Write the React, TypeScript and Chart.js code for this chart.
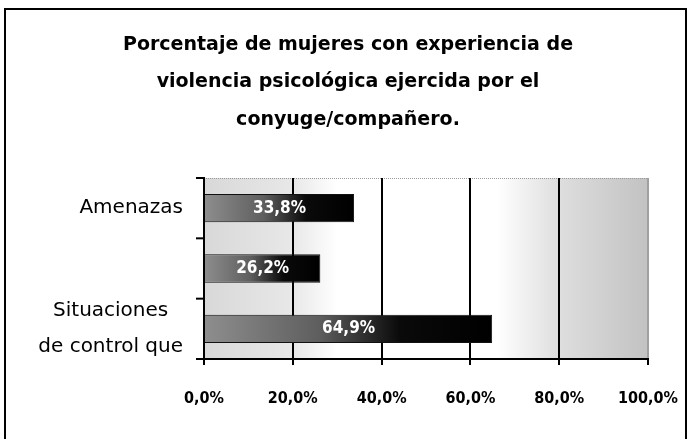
import React, { useEffect, useRef } from "react";
import { Chart, registerables } from "chart.js";

Chart.register(...registerables);

const titleLines = [
  "Porcentaje de mujeres con experiencia de",
  "violencia psicológica ejercida por el",
  "conyuge/compañero.",
];
const categories: string[][] = [["Amenazas"], [""], ["Situaciones", "de control que"]];
const values = [33.8, 26.2, 64.9];
const xTickValues = [0, 20, 40, 60, 80, 100];
const formatPct = (v: number) => v.toFixed(1).replace(".", ",") + "%";

const titlePlugin = {
  id: "customTitle",
  afterDraw(chart: any) {
    const { ctx } = chart;
    ctx.save();
    ctx.fillStyle = "#000";
    ctx.font = "bold 19px 'DejaVu Sans', sans-serif";
    ctx.textAlign = "center";
    ctx.textBaseline = "middle";
    titleLines.forEach((line, i) => {
      ctx.fillText(line, 348, 45 + i * 37.5);
    });
    ctx.restore();
  },
};

const plotBgPlugin = {
  id: "plotBg",
  beforeDraw(chart: any) {
    const { ctx, chartArea: a } = chart;
    if (!a) return;
    ctx.save();
    const g = ctx.createLinearGradient(a.left, 0, a.right, 0);
    g.addColorStop(0, "#d8d8d8");
    g.addColorStop(0.2, "#e8e8e8");
    g.addColorStop(0.3, "#ffffff");
    g.addColorStop(0.66, "#ffffff");
    g.addColorStop(0.8, "#dedede");
    g.addColorStop(1, "#c2c2c2");
    ctx.fillStyle = g;
    ctx.fillRect(a.left, a.top, a.right - a.left, a.bottom - a.top);
    ctx.strokeStyle = "#9a9a9a";
    ctx.lineWidth = 1;
    ctx.setLineDash([1, 1]);
    ctx.beginPath();
    ctx.moveTo(a.left, a.top + 0.5);
    ctx.lineTo(a.right, a.top + 0.5);
    ctx.stroke();
    ctx.restore();
  },
};

const yAxisPlugin = {
  id: "yAxisLabels",
  afterDraw(chart: any) {
    const { ctx } = chart;
    const ys = chart.scales.y;
    const n = categories.length;
    ctx.save();
    ctx.strokeStyle = "#000";
    ctx.lineWidth = 2;
    for (let i = 0; i <= n; i++) {
      const p = ys.getPixelForValue(i - 0.5);
      ctx.beginPath();
      ctx.moveTo(ys.right - 8, p);
      ctx.lineTo(ys.right, p);
      ctx.stroke();
    }
    ctx.fillStyle = "#000";
    ctx.font = "20px 'DejaVu Sans', sans-serif";
    ctx.textAlign = "center";
    ctx.textBaseline = "middle";
    const lineH = 36;
    const rightEdge = ys.right - 21;
    categories.forEach((lines, i) => {
      const cy = ys.getPixelForValue(i);
      const w = Math.max(...lines.map((l) => ctx.measureText(l).width));
      const cx = rightEdge - w / 2;
      lines.forEach((l, j) => {
        ctx.fillText(l, cx, cy + (j - (lines.length - 1) / 2) * lineH);
      });
    });
    ctx.restore();
  },
};

const barLabelPlugin = {
  id: "barLabels",
  afterDatasetsDraw(chart: any) {
    const { ctx } = chart;
    const meta = chart.getDatasetMeta(0);
    ctx.save();
    ctx.fillStyle = "#ffffff";
    ctx.font = "bold 17px 'DejaVu Sans Condensed', 'DejaVu Sans', sans-serif";
    ctx.textAlign = "center";
    ctx.textBaseline = "middle";
    meta.data.forEach((bar: any, i: number) => {
      const cx = (bar.x + bar.base) / 2;
      ctx.fillText(formatPct(values[i]), cx, bar.y);
    });
    ctx.restore();
  },
};

export default function App() {
  const ref = useRef<HTMLCanvasElement | null>(null);
  useEffect(() => {
    if (!ref.current) return;
    const chart = new Chart(ref.current, {
      type: "bar",
      data: {
        labels: categories,
        datasets: [
          {
            data: values,
            backgroundColor: (ctx: any) => {
              const chart = ctx.chart;
              const a = chart.chartArea;
              if (!a) return "#000";
              const xs = chart.scales.x;
              const x0 = xs.getPixelForValue(0);
              const x1 = xs.getPixelForValue(values[ctx.dataIndex] ?? 0);
              const g = chart.ctx.createLinearGradient(x0, 0, x1, 0);
              g.addColorStop(0, "#8e8e8e");
              g.addColorStop(0.4, "#5e5e5e");
              g.addColorStop(0.68, "#0a0a0a");
              g.addColorStop(1, "#000000");
              return g;
            },
            borderColor: "#111",
            borderWidth: 1,
            barPercentage: 0.47,
            categoryPercentage: 1,
          },
        ],
      },
      options: {
        indexAxis: "y",
        responsive: false,
        animation: false,
        layout: { padding: { left: 0, right: 41, top: 178, bottom: 0 } },
        plugins: {
          legend: { display: false },
          tooltip: { enabled: false },
          title: { display: false },
        },
        scales: {
          x: {
            min: 0,
            max: 100,
            afterFit: (s: any) => {
              s.height = 80;
              s.paddingLeft = 0;
              s.paddingRight = 0;
            },
            afterBuildTicks: (s: any) => {
              s.ticks = xTickValues.map((v) => ({ value: v }));
            },
            ticks: {
              color: "#000",
              padding: 24,
              font: { family: "'DejaVu Sans Condensed', 'DejaVu Sans', sans-serif", size: 16, weight: "bold" },
              callback: (v: any) => formatPct(Number(v)),
              maxRotation: 0,
            },
            grid: {
              color: (c: any) => (c.tick && c.tick.value === 100 ? "#a0a0a0" : c.tick && c.tick.value === 0 ? "rgba(0,0,0,0)" : "#000"),
              lineWidth: 2,
              tickColor: "#000",
              tickLength: 6,
            },
            border: { color: "#000", width: 2 },
          },
          y: {
            afterFit: (s: any) => {
              s.width = 204;
              s.paddingTop = 0;
              s.paddingBottom = 0;
            },
            ticks: { display: false },
            grid: { display: false },
            border: { display: true, color: "#000", width: 2 },
          },
        },
      },
      plugins: [plotBgPlugin, barLabelPlugin, yAxisPlugin, titlePlugin],
    } as any);
    return () => chart.destroy();
  }, []);
  return (
    <div style={{ position: "fixed", left: 0, top: 0, width: 689, height: 439, background: "#fff" }}>
      <canvas ref={ref} width={689} height={439} style={{ position: "absolute", left: 0, top: 0 }} />
      <div
        style={{
          position: "absolute",
          left: 4,
          top: 8,
          width: 683,
          height: 460,
          border: "2px solid #000",
          boxSizing: "border-box",
          pointerEvents: "none",
        }}
      />
    </div>
  );
}
